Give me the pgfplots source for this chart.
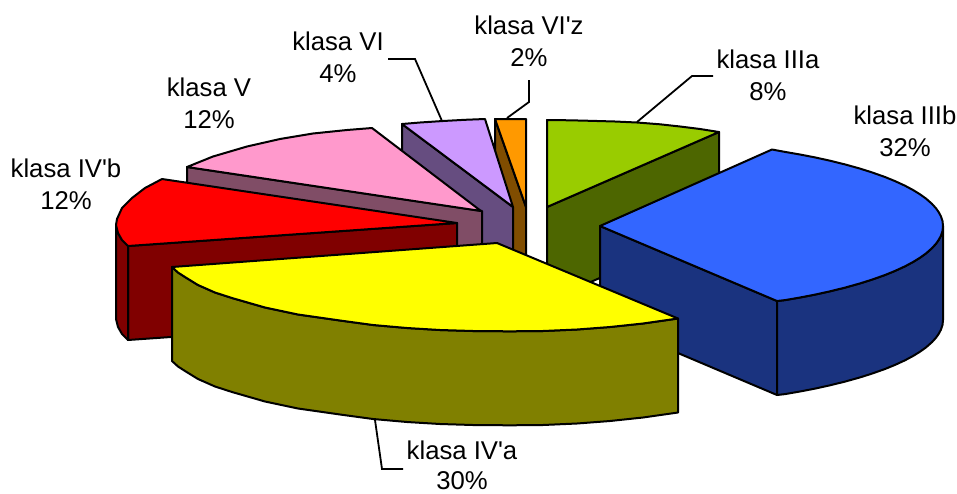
\documentclass[border=0pt]{standalone}
\usepackage{pgfplots}
\pgfplotsset{compat=1.18}
\usepackage{fontspec}
\setmainfont{Liberation Sans}[Ligatures=TeXOff]
\definecolor{greenT}{HTML}{99CC00}
\definecolor{greenS}{HTML}{4D6600}
\definecolor{blueT}{HTML}{3366FF}
\definecolor{blueS}{HTML}{1A337F}
\definecolor{yellowT}{HTML}{FFFF00}
\definecolor{yellowS}{HTML}{808000}
\definecolor{redT}{HTML}{FF0000}
\definecolor{redS}{HTML}{800000}
\definecolor{pinkT}{HTML}{FF99CC}
\definecolor{pinkS}{HTML}{804D66}
\definecolor{purpleT}{HTML}{CC99FF}
\definecolor{purpleS}{HTML}{664D80}
\definecolor{orangeT}{HTML}{FF9900}
\definecolor{orangeS}{HTML}{804D00}
\tikzset{
  face/.style={draw=black, line width=2pt, line join=round, fill=#1},
  leader/.style={draw=black, line width=1.8pt, line join=miter},
  lab/.style={font=\fontsize{25.7}{32}\selectfont, align=center, inner sep=0pt, text=black},
}
\begin{document}
\begin{tikzpicture}
\useasboundingbox (0,0) rectangle (957pt,493pt);
\begin{axis}[scale only axis, width=957pt, height=493pt, hide axis,
  xmin=0, xmax=957, ymin=0, ymax=493, y dir=reverse, clip=false]
% leaders
\addplot[leader] coordinates {(637,122) (692,76) (713,76)};
\addplot[leader] coordinates {(507,118) (529,102) (529,80)};
\addplot[leader] coordinates {(442,121) (415,59) (388,59)};
\addplot[leader] coordinates {(375,420) (382,469) (403,469)};
% klasa IIIa
\addplot[face=greenS] coordinates {(547,207) (719,132) (719,226) (547,301)} --cycle;
\addplot[face=greenT] coordinates {(547,120) (570,120.3) (590,120.8) (615,121.5) (637,122.5) (660,124.3) (680,126.5) (700,129) (719,132) (547,207)} --cycle;
% klasa VI'z
\addplot[face=orangeS] coordinates {(495,119) (526,207) (526,301) (495,213)} --cycle;
\addplot[face=orangeT] coordinates {(495,119) (526,119) (526,207)} --cycle;
% klasa VI
\addplot[face=purpleS] coordinates {(402,124) (513,207) (513,301) (402,218)} --cycle;
\addplot[face=purpleT] coordinates {(402,124) (420,122.5) (443,121) (465,119.8) (485,119) (513,207)} --cycle;
% klasa V
\addplot[face=pinkS] coordinates {(187,167) (482,211) (482,305) (187,261)} --cycle;
\addplot[face=pinkT] coordinates {(372,128) (347,130) (313,133.5) (280,139) (247,146.5) (213,156.5) (187,167) (481,211)} --cycle;
% klasa IV'b
\addplot[face=redS] coordinates {(128,246) (457,223) (457,317) (128,340)} --cycle;
\addplot[face=redS] coordinates {(116,225) (118,233) (122,240) (128,246) (128,340) (122,334) (118,327) (116,319)} --cycle;
\addplot[face=redT] coordinates {(162,179) (145,188) (132,198) (122,208) (117,219) (116,225) (118,233) (122,240) (128,246) (457,223)} --cycle;
% klasa IIIb
\addplot[face=blueS] coordinates {(600,226) (777,301) (777,395) (600,320)} --cycle;
\addplot[face=blueS] coordinates {(777,301) (785,300.1) (800,297.5) (815,294.6) (830,291.3) (845,287.6) (860,283.4) (872,279.6) (885,275) (895,270.9) (905,266.3) (913,262) (920,257.7) (926,253.4) (932,248.1) (936,243.7) (939,239.4) (941,235.5) (942.5,231) (943,226)
  (943,320) (942.5,325) (941,329.5) (939,333.4) (936,337.7) (932,342.1) (926,347.4) (920,351.7) (913,356) (905,360.3) (895,364.9) (885,369) (872,373.6) (860,377.4) (845,381.6) (830,385.3) (815,388.6) (800,391.5) (785,394.1) (777,395)} --cycle;
\addplot[face=blueT] coordinates {(600,226) (772,149.5) (785,151.9) (800,154.5) (815,157.4) (830,160.7) (845,164.4) (860,168.6) (872,172.4) (885,177) (895,181.1) (905,185.7) (913,190) (920,194.3) (926,198.6) (932,203.9) (936,208.3) (939,212.6) (941,216.5) (942.5,221) (943,226)
  (942.5,231) (941,235.5) (939,239.4) (936,243.7) (932,248.1) (926,253.4) (920,257.7) (913,262) (905,266.3) (895,270.9) (885,275) (872,279.6) (860,283.4) (845,287.6) (830,291.3) (815,294.6) (800,297.5) (785,300.1) (777,301)} --cycle;
% klasa IV'a
\addplot[face=yellowS] coordinates {(172,267) (178,272.5) (185,277) (198,285) (215,292.5) (232,298) (265,307.5) (298,314.5) (340,320.5) (373,325) (407,328) (440,330) (473,331) (510,331.3) (543,331) (577,329.5) (610,327) (643,323.5) (678,318.5)
  (678,412.5) (643,417.5) (610,421) (577,423.5) (543,425) (510,425.3) (473,425) (440,424) (407,422) (373,419) (340,414.5) (298,408.5) (265,401.5) (232,392) (215,386.5) (198,379) (185,371) (178,366.5) (172,361)} --cycle;
\addplot[face=yellowT] coordinates {(172,267) (178,272.5) (185,277) (198,285) (215,292.5) (232,298) (265,307.5) (298,314.5) (340,320.5) (373,325) (407,328) (440,330) (473,331) (510,331.3) (543,331) (577,329.5) (610,327) (643,323.5) (678,318.5) (497,243)} --cycle;
% labels
\node[lab] at (axis cs:768,75) {klasa IIIa\\8\%};
\node[lab] at (axis cs:905,131) {klasa IIIb\\32\%};
\node[lab] at (axis cs:529,41) {klasa VI'z\\2\%};
\node[lab] at (axis cs:338,57) {klasa VI\\4\%};
\node[lab] at (axis cs:209,103) {klasa V\\12\%};
\node[lab] at (axis cs:66,184) {klasa IV'b\\12\%};
\node[lab, font=\fontsize{25.7}{30}\selectfont] at (axis cs:462,465.5) {klasa IV'a\\30\%};
\end{axis}
\end{tikzpicture}
\end{document}
